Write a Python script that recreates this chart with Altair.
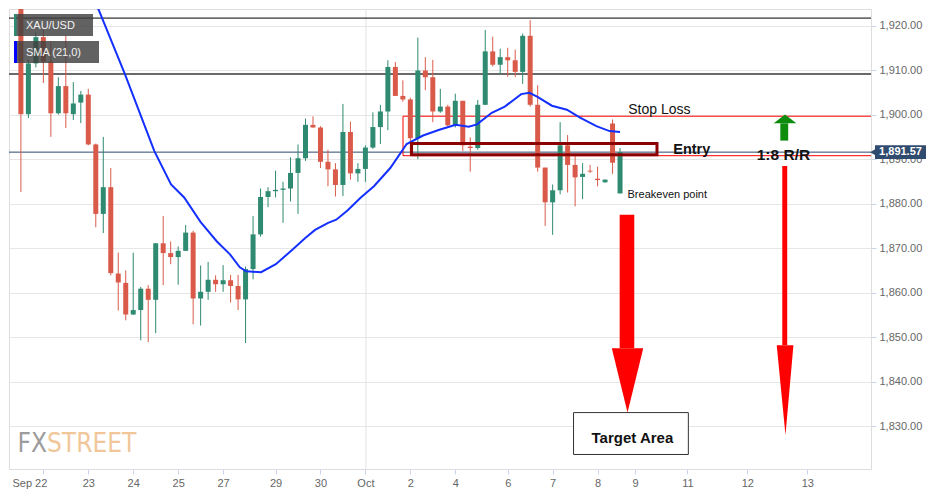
import altair as alt
import pandas as pd

# ---------------- data ----------------
opens = [1925.5, 1900.1, 1911.5, 1917.4, 1911.9, 1900.3, 1906.4, 1900.1, 1902.7, 1904.5,
         1893.3, 1877.7, 1883.7, 1864.3, 1862.2, 1855.1, 1856.1, 1860.9, 1858.4, 1871.1,
         1868.9, 1868.0, 1869.4, 1873.5, 1858.7, 1860.2, 1862.9, 1861.9, 1862.8, 1861.5,
         1858.5, 1865.3, 1873.1, 1881.5, 1882.8, 1883.1, 1883.4, 1886.9, 1890.2, 1897.7,
         1897.1, 1889.4, 1887.7, 1884.2, 1896.1, 1886.8, 1887.8, 1892.6, 1897.2, 1900.7,
         1910.7, 1904.2, 1903.4, 1894.7, 1909.9, 1908.4, 1900.7, 1901.8, 1897.6, 1903.1,
         1892.8, 1892.5, 1902.2, 1914.2, 1911.2, 1912.9, 1912.2, 1909.6, 1917.7, 1902.2,
         1888.1, 1880.3, 1883.0, 1893.1, 1888.7, 1886.0, 1887.4, 1885.6, 1884.8, 1898.0,
         1882.3]
highs = [1926.5, 1912.3, 1918.5, 1919.1, 1916.5, 1908.4, 1917.8, 1907.3, 1905.3, 1905.8,
         1893.5, 1895.0, 1888.0, 1869.0, 1865.0, 1869.0, 1861.3, 1861.7, 1871.1, 1877.2,
         1871.5, 1870.4, 1875.2, 1873.9, 1866.1, 1866.9, 1863.9, 1866.2, 1864.0, 1864.0,
         1865.9, 1877.2, 1883.4, 1883.7, 1887.4, 1884.9, 1890.4, 1893.3, 1899.1, 1899.6,
         1897.4, 1892.1, 1889.1, 1902.4, 1898.4, 1889.1, 1893.1, 1900.5, 1902.2, 1912.2,
         1911.8, 1907.7, 1903.8, 1917.3, 1912.9, 1912.3, 1905.8, 1902.2, 1904.7, 1903.1,
         1894.9, 1903.3, 1919.0, 1917.5, 1914.8, 1915.0, 1914.6, 1918.2, 1921.2, 1906.6,
         1888.1, 1884.3, 1898.3, 1895.4, 1890.9, 1889.1, 1888.7, 1888.3, 1885.4, 1898.9,
         1892.5]
lows = [1882.6, 1899.2, 1910.6, 1907.1, 1895.0, 1900.0, 1897.0, 1898.8, 1898.1, 1893.1,
        1874.7, 1873.4, 1863.9, 1856.0, 1853.8, 1855.0, 1849.3, 1848.9, 1850.9, 1861.7,
        1866.4, 1861.8, 1869.4, 1852.9, 1852.6, 1858.4, 1860.2, 1860.2, 1857.8, 1856.1,
        1848.7, 1863.0, 1872.6, 1879.2, 1881.4, 1875.7, 1880.5, 1877.7, 1889.6, 1897.1,
        1888.0, 1883.9, 1881.6, 1881.7, 1885.4, 1884.9, 1884.9, 1892.3, 1893.4, 1896.5,
        1904.2, 1902.9, 1891.0, 1890.0, 1905.5, 1898.3, 1900.4, 1897.3, 1897.1, 1891.8,
        1887.2, 1892.1, 1902.2, 1910.8, 1909.1, 1908.5, 1908.4, 1906.9, 1901.8, 1887.2,
        1875.0, 1873.0, 1882.1, 1882.5, 1879.4, 1881.0, 1886.9, 1883.9, 1884.7, 1886.7,
        1882.3]
closes = [1900.1, 1911.5, 1917.4, 1911.9, 1900.3, 1906.4, 1900.3, 1902.5, 1904.5, 1893.3,
          1877.7, 1883.7, 1864.4, 1862.3, 1855.1, 1856.1, 1860.9, 1858.4, 1871.1, 1868.9,
          1868.0, 1869.4, 1873.5, 1858.7, 1860.2, 1862.9, 1861.9, 1862.8, 1861.5, 1858.5,
          1865.3, 1873.1, 1881.5, 1882.8, 1883.1, 1883.4, 1886.9, 1890.2, 1897.7, 1897.1,
          1889.4, 1887.7, 1884.2, 1896.1, 1886.8, 1887.8, 1892.6, 1897.2, 1900.7, 1910.7,
          1904.2, 1903.4, 1894.7, 1909.9, 1908.4, 1900.7, 1901.8, 1897.6, 1903.1, 1893.1,
          1892.5, 1902.2, 1914.2, 1911.2, 1912.9, 1912.2, 1909.6, 1917.7, 1902.2, 1888.1,
          1880.3, 1883.0, 1893.1, 1888.7, 1885.9, 1886.7, 1887.2, 1885.3, 1885.4, 1889.2,
          1891.57]

sma_x = [9.57, 10.35, 13.89, 17.82, 20.05, 21.8, 23.98, 26.17, 27.92, 29.23, 30.1, 32.07,
         34.04, 36.21, 37.97, 39.28, 41.02, 42.11, 43.64, 45.39, 47.14, 49.32, 51.51, 53.7,
         55.87, 58.06, 59.8, 60.9, 62.87, 64.61, 66.8, 67.9, 68.98, 70.9, 72.9, 74.66,
         76.84, 78.6, 80.0]
sma_y = [1927.0, 1923.7, 1909.1, 1891.8, 1884.3, 1881.4, 1875.9, 1871.5, 1868.6, 1865.7,
         1864.8, 1864.6, 1866.4, 1869.6, 1872.3, 1874.1, 1875.7, 1876.4, 1878.5, 1881.4,
         1883.9, 1888.0, 1893.4, 1895.3, 1896.6, 1897.7, 1897.3, 1897.8, 1900.4, 1901.8,
         1904.6, 1904.9, 1904.0, 1902.0, 1901.1, 1899.3, 1897.4, 1896.3, 1896.1]

tick_pos = [3, 9, 15, 21, 27, 34, 40, 46, 52, 58, 65, 71, 77, 82, 89, 97, 105]
tick_lab = ["Sep 22", "23", "24", "25", "27", "29", "30", "Oct", "2", "4", "6", "7", "8",
            "9", "11", "12", "13"]
y_ticks = [1830, 1840, 1850, 1860, 1870, 1880, 1890, 1900, 1910, 1920]

oct_pos = [46.07]
hline_vals = [1921.68, 1909.12, 1891.57]
hline_cols = ["#000000", "#6a6a6a", "#2b4a70"]
hline_w = [1, 2, 1]

last_price = [1891.57]
last_label = ["1,891.57"]

# annotations (data coordinates)
stop_zone = {"x1": [51.02], "x2": [116.0], "y1": [1890.77], "y2": [1899.64]}
entry_box = {"x1": [52.16], "x2": [84.93], "y1": [1891.0], "y2": [1893.5]}
target_box = {"x1": [73.79], "x2": [89.12], "y1": [1823.66], "y2": [1833.07]}

shaft_x1 = [79.95, 101.66, 101.4]
shaft_x2 = [81.9, 102.32, 102.45]
shaft_y1 = [1877.5, 1888.47, 1894.16]
shaft_y2 = [1847.5, 1848.18, 1898.04]
arrow_col = ["#ff0000", "#ff0000", "#0e8c0e"]

head_arrow = ["a", "a", "a", "b", "b", "b", "c", "c", "c"]
head_x = [78.9, 81.0, 83.1, 100.92, 102.09, 103.15, 100.52, 102.03, 103.54]
head_base = [1847.5, 1847.5, 1847.5, 1848.18, 1848.18, 1848.18, 1898.04, 1898.04, 1898.04]
head_tip = [1847.5, 1833.07, 1847.5, 1848.18, 1828.04, 1848.18, 1898.04, 1900.0, 1898.04]
head_col = ["#ff0000"] * 6 + ["#0e8c0e"] * 3

# ---------------- styling ----------------
W, H = 862, 460
XMIN, XMAX = -0.92, 112.84
YMIN, YMAX = 1820.4, 1923.72
FONT = "Liberation Sans"
GREEN = "#2e8a70"
RED = "#da5a4a"
BLUE = "#1430ff"
NAVY = "#2f4b6e"

lab_expr = " : ".join(f"datum.value == {p} ? '{l}'" for p, l in zip(tick_pos, tick_lab)) + " : ''"

xs = alt.Scale(domain=[XMIN, XMAX], nice=False, zero=False)
ys = alt.Scale(domain=[YMIN, YMAX], nice=False, zero=False)
xaxis = alt.Axis(values=tick_pos, labelExpr=lab_expr, grid=False, domain=False,
                 tickColor="#ccd6eb", tickSize=5, labelColor="#666666", labelFontSize=11,
                 labelFont=FONT, labelPadding=3, title=None, labelAngle=0, labelOverlap=False,
                 labelOffset={"condition": {"test": "datum.value == 3", "value": -14}, "value": 0})
yaxis = alt.Axis(orient="right", values=y_ticks, format=",.2f", grid=True, gridColor="#e6e6e6",
                 domain=False, tickColor="#ccd6eb", tickSize=5, labelColor="#666666",
                 labelFontSize=11, labelFont=FONT, labelPadding=3, title=None)


def X(f):
    return alt.X(f, scale=xs, axis=xaxis)


def Y(f):
    return alt.Y(f, scale=ys, axis=yaxis, stack=None)


df = pd.DataFrame({"i": list(range(len(opens))), "o": opens, "h": highs, "l": lows, "c": closes})
df["dir"] = ["up" if c >= o else "down" for o, c in zip(opens, closes)]
color_enc = alt.Color("dir:N", scale=alt.Scale(domain=["up", "down"], range=[GREEN, RED]), legend=None)

one = pd.DataFrame({"k": [0]})

layers = []
layers.append(alt.Chart(pd.DataFrame({"x": oct_pos})).mark_rule(color="#e3e3e3", strokeWidth=1)
              .encode(x=X("x:Q")))
layers.append(alt.Chart(pd.DataFrame({"y": hline_vals, "col": hline_cols, "w": hline_w}))
              .mark_rule().encode(y=Y("y:Q"), color=alt.Color("col:N", scale=None),
                                  strokeWidth=alt.StrokeWidth("w:Q", scale=None)))
layers.append(alt.Chart(pd.DataFrame(stop_zone)).mark_rect(fillOpacity=0, stroke="#ff0000", strokeWidth=1, clip=True)
              .encode(x=X("x1:Q"), x2="x2:Q", y=Y("y1:Q"), y2="y2:Q"))
layers.append(alt.Chart(df).mark_rule(strokeWidth=1, clip=True)
              .encode(x=X("i:Q"), y=Y("l:Q"), y2="h:Q", color=color_enc))
layers.append(alt.Chart(df).mark_bar(width=5, clip=True)
              .encode(x=X("i:Q"), y=Y("o:Q"), y2="c:Q", color=color_enc))
layers.append(alt.Chart(pd.DataFrame({"x": sma_x, "y": sma_y}))
              .mark_line(color=BLUE, strokeWidth=2, clip=True).encode(x=X("x:Q"), y=Y("y:Q")))
layers.append(alt.Chart(pd.DataFrame(entry_box)).mark_rect(fillOpacity=0, stroke="#8b0000", strokeWidth=3)
              .encode(x=X("x1:Q"), x2="x2:Q", y=Y("y1:Q"), y2="y2:Q"))
layers.append(alt.Chart(pd.DataFrame(target_box)).mark_rect(fill="#ffffff", stroke="#333333", strokeWidth=1)
              .encode(x=X("x1:Q"), x2="x2:Q", y=Y("y1:Q"), y2="y2:Q"))
layers.append(alt.Chart(pd.DataFrame({"x1": shaft_x1, "x2": shaft_x2, "y1": shaft_y1, "y2": shaft_y2,
                                      "col": arrow_col}))
              .mark_rect().encode(x=X("x1:Q"), x2="x2:Q", y=Y("y1:Q"), y2="y2:Q",
                                  color=alt.Color("col:N", scale=None)))
layers.append(alt.Chart(pd.DataFrame({"a": head_arrow, "x": head_x, "yb": head_base, "yt": head_tip,
                                      "col": head_col}))
              .mark_area(opacity=1).encode(x=X("x:Q"), y=Y("yb:Q"), y2="yt:Q", detail="a:N",
                                           color=alt.Color("col:N", scale=None)))


def dtext(x, y, txt, **mk):
    return alt.Chart(pd.DataFrame({"x": [x], "y": [y], "t": [txt]})).mark_text(
        font=FONT, baseline="middle", **mk).encode(x=X("x:Q"), y=Y("y:Q"), text="t:N")


layers.append(dtext(81.1, 1901.1, "Stop Loss", fontSize=14, align="left", color="#111111"))
layers.append(dtext(87.1, 1892.0, "Entry", fontSize=14.5, fontWeight="bold", align="left", color="#111111"))
layers.append(dtext(98.25, 1891.0, "1:8 R/R", fontSize=15.5, fontWeight="bold", align="left", color="#111111"))
layers.append(dtext(81.0, 1881.9, "Breakeven point", fontSize=11, align="left", color="#111111"))
layers.append(dtext(81.65, 1827.3, "Target Area", fontSize=15, fontWeight="bold", align="center", color="#111111"))

# last price tag
layers.append(alt.Chart(pd.DataFrame({"y1": [last_price[0] - 1.55], "y2": [last_price[0] + 1.55]}))
              .mark_rect(color=NAVY).encode(x=alt.value(W + 4), x2=alt.value(W + 55), y=Y("y1:Q"), y2="y2:Q"))
layers.append(alt.Chart(pd.DataFrame({"y": last_price}))
              .mark_point(shape="triangle-left", filled=True, size=45, color=NAVY, opacity=1)
              .encode(x=alt.value(W + 2), y=Y("y:Q")))
layers.append(alt.Chart(pd.DataFrame({"y": last_price, "t": last_label}))
              .mark_text(color="white", fontWeight="bold", fontSize=11, font=FONT, align="center", baseline="middle")
              .encode(x=alt.value(W + 29.5), y=Y("y:Q"), text="t:N"))


def prect(x1, x2, y1, y2, **mk):
    return alt.Chart(one).mark_rect(**mk).encode(x=alt.value(x1), x2=alt.value(x2),
                                                 y=alt.value(y1), y2=alt.value(y2))


def ptext(x, y, txt, **mk):
    return alt.Chart(one).mark_text(text=txt, **mk).encode(x=alt.value(x), y=alt.value(y))


# legend overlay
layers.append(prect(5, 84, 5, 27, color="#3f3f3f", opacity=0.82))
layers.append(prect(5, 7.5, 5, 27, color=GREEN, opacity=1))
layers.append(prect(5, 90, 32, 54, color="#3f3f3f", opacity=0.82))
layers.append(prect(5, 8, 32, 54, color="#0000ff", opacity=1))
layers.append(ptext(17, 16.5, "XAU/USD", font=FONT, fontSize=11, color="#f2f2f2", align="left", baseline="middle"))
layers.append(ptext(17, 43.5, "SMA (21,0)", font=FONT, fontSize=11, color="#f2f2f2", align="left", baseline="middle"))

# watermark
WM_FONT = "Liberation Sans Narrow, DejaVu Sans Condensed, Arial Narrow, sans-serif"
layers.append(ptext(38, 443, "FX", font=WM_FONT, fontSize=26, color="#9c9c9c", align="right", baseline="alphabetic"))
layers.append(ptext(38, 443, "STREET", font=WM_FONT, fontSize=26, color="#f1c79a", align="left", baseline="alphabetic"))

chart = alt.layer(*layers).properties(
    width=W, height=H, background="white",
    padding={"left": 0, "top": 0, "right": 4, "bottom": 4},
).configure_view(stroke="#ccd6eb", fill="#f7f7f7", strokeWidth=1).configure(font=FONT)

chart.save("out.html", embed_options={"renderer": "svg", "actions": False})
